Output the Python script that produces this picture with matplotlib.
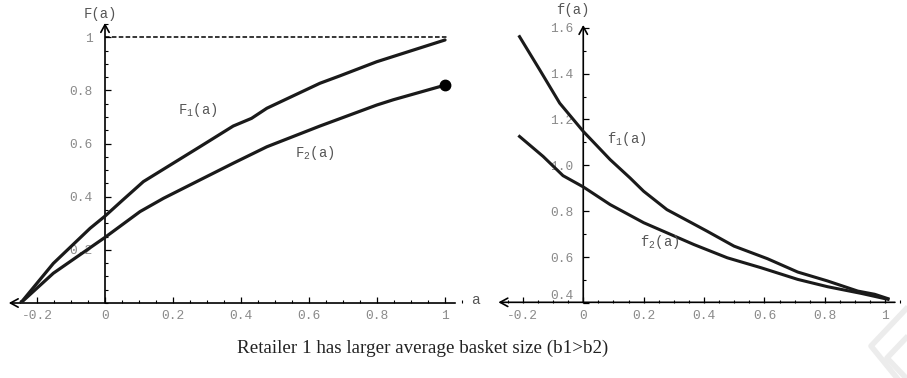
import matplotlib
matplotlib.use('Agg')
import matplotlib.pyplot as plt
import matplotlib.transforms as mtransforms
from matplotlib.ticker import MultipleLocator
from matplotlib.lines import Line2D

plt.rcParams['mathtext.fontset'] = 'custom'
plt.rcParams['mathtext.rm'] = 'Liberation Mono'
plt.rcParams['mathtext.it'] = 'Liberation Mono'

MONO = 'Liberation Mono'
TICK_COL = '#8a8a8a'
LABEL_COL = '#555555'

# cumulative distributions F1, F2 (left panel)
a_F1 = [-0.248, -0.152, -0.044, 0.0, 0.05, 0.113, 0.279, 0.377, 0.431, 0.476, 0.632, 0.691, 0.799, 1.0]
F1 = [0.0, 0.149, 0.281, 0.327, 0.385, 0.457, 0.588, 0.666, 0.695, 0.733, 0.827, 0.855, 0.908, 0.99]
a_F2 = [-0.248, -0.152, 0.0, 0.103, 0.172, 0.279, 0.377, 0.476, 0.632, 0.799, 0.848, 1.0]
F2 = [0.0, 0.112, 0.247, 0.344, 0.394, 0.463, 0.526, 0.588, 0.666, 0.745, 0.765, 0.82]

# densities f1, f2 (right panel)
a_f1 = [-0.211, -0.144, -0.078, 0.0, 0.089, 0.155, 0.2, 0.277, 0.355, 0.41, 0.499,
        0.61, 0.71, 0.809, 0.909, 0.965, 1.009]
f1 = [1.561, 1.416, 1.271, 1.148, 1.025, 0.945, 0.887, 0.807, 0.752, 0.713, 0.648,
      0.593, 0.535, 0.496, 0.452, 0.438, 0.419]
a_f2 = [-0.211, -0.133, -0.067, 0.0, 0.089, 0.2, 0.277, 0.366, 0.477, 0.588, 0.71,
        0.809, 0.92, 1.009]
f2 = [1.126, 1.039, 0.955, 0.906, 0.829, 0.75, 0.706, 0.655, 0.597, 0.554, 0.503,
      0.471, 0.442, 0.416]

x_ticks = [-0.2, 0, 0.2, 0.4, 0.6, 0.8, 1]
x_labels = ['-0.2', '0', '0.2', '0.4', '0.6', '0.8', '1']
F_ticks = [0.2, 0.4, 0.6, 0.8, 1]
F_labels = ['0.2', '0.4', '0.6', '0.8', '1']
f_ticks = [0.4, 0.6, 0.8, 1.0, 1.2, 1.4, 1.6]
f_labels = ['0.4', '0.6', '0.8', '1.0', '1.2', '1.4', '1.6']

fig = plt.figure(figsize=(9.07, 3.78), dpi=100)
fig.patch.set_facecolor('white')


def axis_arrows(ax, x0, x1, xy, y0, y1, yx):
    # x axis: arrow head at the left end, y axis: arrow head at the top
    ax.annotate('', xy=(x0, xy), xytext=(x1, xy),
                arrowprops=dict(arrowstyle='->,head_length=0.55,head_width=0.3',
                                lw=1.2, color='black', shrinkA=0, shrinkB=0),
                annotation_clip=False)
    ax.annotate('', xy=(yx, y1), xytext=(yx, y0),
                arrowprops=dict(arrowstyle='->,head_length=0.55,head_width=0.3',
                                lw=1.2, color='black', shrinkA=0, shrinkB=0),
                annotation_clip=False)


def style(ax, ypad):
    for s in ax.spines.values():
        s.set_visible(False)
    ax.spines['left'].set_position(('data', 0))
    ax.tick_params(which='both', direction='in', top=False, right=False,
                   colors='black', labelcolor=TICK_COL, labelsize=9.3)
    ax.tick_params(which='major', length=4, width=0.9)
    ax.tick_params(which='minor', length=2.5, width=0.8)
    ax.tick_params(axis='x', pad=5)
    ax.tick_params(axis='y', pad=ypad)
    for lbl in ax.get_xticklabels() + ax.get_yticklabels():
        lbl.set_family(MONO)
    ax.set_facecolor('none')


# ---------------- left panel: F(a) ----------------
axL = fig.add_axes([0.0108, 0.1984, 0.4986, 0.7521])
axL.set_xlim(-0.28, 1.05)
axL.set_ylim(0, 1.07)
axL.set_xticks(x_ticks)
axL.set_xticklabels(x_labels)
axL.set_yticks(F_ticks)
axL.set_yticklabels(F_labels)
axL.xaxis.set_minor_locator(MultipleLocator(0.05))
axL.yaxis.set_minor_locator(MultipleLocator(0.05))
style(axL, 9)
axis_arrows(axL, -0.283, 1.03, 0, 0, 1.054, 0)

axL.plot([0, 1.005], [1, 1], color='black', lw=1.1, ls=(0, (3, 1.5)), zorder=3)
axL.plot(a_F1, F1, color='#1a1a1a', lw=2.3, zorder=3, solid_capstyle='round')
axL.plot(a_F2, F2, color='#1a1a1a', lw=2.3, zorder=3, solid_capstyle='round')
axL.plot(a_F2[-1], F2[-1], 'o', color='black', ms=7.5, zorder=4, clip_on=False)

axL.text(-0.015, 1.088, 'F(a)', family=MONO, fontsize=10, color=LABEL_COL,
         ha='center', va='center')
axL.text(0.274, 0.726, r'F$_\mathrm{1}$(a)', family=MONO, fontsize=10,
         color=LABEL_COL, ha='center', va='center')
axL.text(0.618, 0.565, r'F$_\mathrm{2}$(a)', family=MONO, fontsize=10,
         color=LABEL_COL, ha='center', va='center')

# ---------------- right panel: f(a) ----------------
axR = fig.add_axes([0.5465, 0.1984, 0.4462, 0.7587])
axR.set_xlim(-0.29, 1.05)
axR.set_ylim(0.403, 1.65)
axR.set_xticks(x_ticks)
axR.set_xticklabels(x_labels)
axR.set_yticks(f_ticks)
axR.set_yticklabels(f_labels)
axR.xaxis.set_minor_locator(MultipleLocator(0.05))
axR.yaxis.set_minor_locator(MultipleLocator(0.1))
style(axR, 7)
axis_arrows(axR, -0.281, 1.032, 0.403, 0.403, 1.612, 0)

# lift the lowest label off the x axis, as in the original
low = axR.get_yticklabels()[0]
low.set_transform(low.get_transform() +
                  mtransforms.ScaledTranslation(0, 6 / 72, fig.dpi_scale_trans))

axR.plot(a_f1, f1, color='#1a1a1a', lw=2.2, zorder=3)
axR.plot(a_f2, f2, color='#1a1a1a', lw=2.2, zorder=3)

axR.text(-0.033, 1.677, 'f(a)', family=MONO, fontsize=10, color=LABEL_COL,
         ha='center', va='center')
axR.text(0.143, 1.115, r'f$_\mathrm{1}$(a)', family=MONO, fontsize=10,
         color=LABEL_COL, ha='center', va='center')
axR.text(0.254, 0.665, r'f$_\mathrm{2}$(a)', family=MONO, fontsize=10,
         color=LABEL_COL, ha='center', va='center')

# shared "a" axis label between the panels
fig.text(475 / 907, 1 - 300 / 378, 'a', family=MONO, fontsize=10.5,
         color=LABEL_COL, ha='center', va='center')

# caption
fig.text(423 / 907, 1 - 348 / 378, 'Retailer 1 has larger average basket size (b1>b2)',
         family='Liberation Serif', fontsize=13.7, color='#222222',
         ha='center', va='center')

# faint watermark strokes, bottom right corner
W, H = 907, 378
for xs, ys in [([906, 871, 897], [309, 346, 378]), ([906, 887, 906], [338, 358, 378])]:
    fig.add_artist(Line2D([x / W for x in xs], [1 - y / H for y in ys],
                          transform=fig.transFigure, color='#ececec', lw=4, zorder=0))

fig.savefig('out.png', dpi=100)
